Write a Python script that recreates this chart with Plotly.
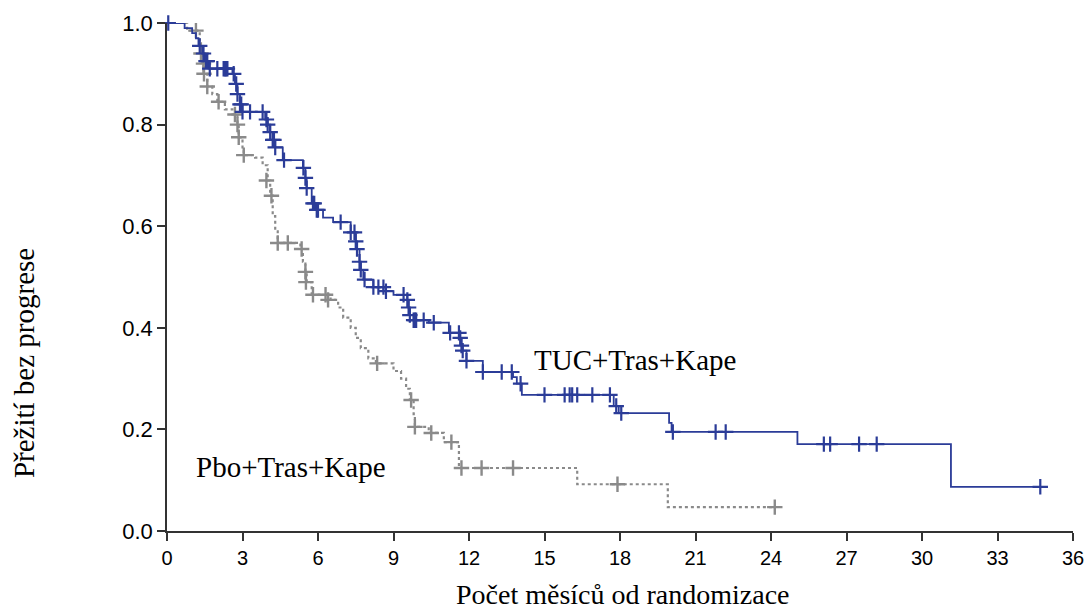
import plotly.graph_objects as go

# TUC+Tras+Kape: step events (time in months, survival after step)
tuc_t = [0, 0.7, 1.0, 1.15, 1.25, 1.4, 1.5, 1.65, 2.6, 2.7, 2.8, 2.9, 3.0, 3.9, 4.0, 4.1, 4.2, 4.3, 4.6,
         5.4, 5.5, 5.55, 5.75, 5.9, 6.2, 6.6, 7.3, 7.5, 7.55, 7.65, 7.7, 7.8, 8.2, 8.6, 9.0, 9.55, 9.6,
         9.65, 9.8, 10.4, 11.2, 11.65, 11.7, 11.75, 11.9, 12.55, 13.75, 13.9, 14.1, 17.75, 17.95, 19.95,
         20.05, 25.05, 31.15, 34.7]
tuc_s = [1.0, 0.99, 0.98, 0.97, 0.955, 0.94, 0.925, 0.91, 0.90, 0.88, 0.86, 0.84, 0.825, 0.81, 0.80, 0.785,
         0.77, 0.755, 0.73, 0.715, 0.695, 0.675, 0.645, 0.632, 0.617, 0.608, 0.588, 0.57, 0.555, 0.53, 0.514,
         0.495, 0.48, 0.472, 0.465, 0.455, 0.44, 0.425, 0.415, 0.41, 0.39, 0.38, 0.365, 0.355, 0.335, 0.313,
         0.303, 0.29, 0.268, 0.246, 0.232, 0.213, 0.195, 0.171, 0.087, 0.087]
# TUC censor marks
tuc_ct = [0.05, 1.3, 1.45, 1.55, 1.6, 1.7, 2.0, 2.25, 2.3, 2.35, 2.4, 2.65, 2.75, 2.8, 2.9, 2.95, 3.0, 3.3,
          3.8, 3.95, 4.0, 4.1, 4.2, 4.25, 4.3, 4.65, 5.42, 5.5, 5.55, 5.8, 5.85, 5.95, 6.0, 6.9, 7.3, 7.45,
          7.5, 7.55, 7.65, 7.7, 7.85, 8.2, 8.4, 8.6, 8.7, 9.4, 9.55, 9.6, 9.65, 9.8, 9.85, 9.9, 10.2, 10.6,
          11.25, 11.6, 11.65, 11.7, 11.75, 11.9, 12.55, 13.3, 13.7, 14.05, 15.0, 15.8, 16.0, 16.1, 16.3,
          16.9, 17.6, 17.85, 18.05, 20.1, 21.8, 22.2, 26.1, 26.35, 27.5, 28.2, 34.7]
tuc_cs = [1.0, 0.955, 0.94, 0.925, 0.925, 0.91, 0.91, 0.91, 0.91, 0.91, 0.91, 0.90, 0.88, 0.86, 0.84, 0.84,
          0.825, 0.825, 0.825, 0.81, 0.80, 0.785, 0.77, 0.77, 0.755, 0.73, 0.715, 0.695, 0.675, 0.645, 0.645,
          0.632, 0.632, 0.608, 0.588, 0.588, 0.57, 0.555, 0.53, 0.514, 0.495, 0.48, 0.48, 0.48, 0.472, 0.465,
          0.455, 0.44, 0.425, 0.415, 0.415, 0.415, 0.415, 0.41, 0.39, 0.39, 0.38, 0.365, 0.355, 0.335, 0.313,
          0.313, 0.313, 0.29, 0.268, 0.268, 0.268, 0.268, 0.268, 0.268, 0.268, 0.246, 0.232, 0.195, 0.195,
          0.195, 0.171, 0.171, 0.171, 0.171, 0.087]

# Pbo+Tras+Kape
pbo_t = [0, 0.8, 1.3, 1.35, 1.4, 1.45, 1.6, 1.8, 2.0, 2.3, 2.6, 2.8, 2.85, 3.0, 3.05, 3.5, 3.8, 4.0, 4.1,
         4.2, 4.3, 4.4, 5.3, 5.4, 5.5, 5.55, 5.75, 6.5, 6.8, 7.0, 7.3, 7.5, 7.7, 8.0, 8.3, 9.0, 9.3, 9.5,
         9.65, 9.8, 9.85, 10.4, 11.0, 11.6, 16.3, 19.9, 24.15]
pbo_s = [1.0, 0.985, 0.96, 0.94, 0.92, 0.90, 0.875, 0.86, 0.845, 0.83, 0.82, 0.80, 0.775, 0.755, 0.74, 0.735,
         0.72, 0.69, 0.66, 0.62, 0.59, 0.567, 0.555, 0.53, 0.51, 0.49, 0.465, 0.455, 0.44, 0.42, 0.40, 0.38,
         0.36, 0.34, 0.33, 0.315, 0.30, 0.28, 0.258, 0.23, 0.205, 0.193, 0.175, 0.124, 0.092, 0.047, 0.047]
pbo_ct = [1.15, 1.35, 1.45, 1.47, 1.6, 2.05, 2.7, 2.8, 2.85, 3.05, 3.95, 4.15, 4.4, 4.8, 5.35, 5.5, 5.52,
          5.8, 6.3, 6.4, 8.35, 9.7, 9.85, 10.5, 11.3, 11.7, 12.5, 13.75, 17.9, 24.15]
pbo_cs = [0.985, 0.94, 0.92, 0.90, 0.875, 0.845, 0.82, 0.80, 0.775, 0.74, 0.69, 0.66, 0.567, 0.567, 0.555,
          0.51, 0.49, 0.465, 0.465, 0.455, 0.33, 0.258, 0.205, 0.193, 0.175, 0.124, 0.124, 0.124, 0.092, 0.047]

x_ticks = [0, 3, 6, 9, 12, 15, 18, 21, 24, 27, 30, 33, 36]
y_ticks = [0.0, 0.2, 0.4, 0.6, 0.8, 1.0]

BLUE = "#2b3c98"
GRAY = "#8a8a8a"

fig = go.Figure()
fig.add_trace(go.Scatter(x=pbo_t, y=pbo_s, mode="lines", line=dict(color=GRAY, width=2.2, dash="dot", shape="hv"),
                         cliponaxis=False, hoverinfo="skip"))
fig.add_trace(go.Scatter(x=pbo_ct, y=pbo_cs, mode="markers",
                         marker=dict(symbol="cross-thin", size=11, line=dict(color=GRAY, width=2.4)),
                         cliponaxis=False))
fig.add_trace(go.Scatter(x=tuc_t, y=tuc_s, mode="lines", line=dict(color=BLUE, width=1.8, shape="hv"),
                         cliponaxis=False))
fig.add_trace(go.Scatter(x=tuc_ct, y=tuc_cs, mode="markers",
                         marker=dict(symbol="cross-thin", size=11, line=dict(color=BLUE, width=2.2)),
                         cliponaxis=False))

serif = "Liberation Serif, Times New Roman, serif"
fig.add_annotation(x=18.6, y=0.337, text="TUC+Tras+Kape", showarrow=False, xref="x", yref="y",
                   xanchor="center", yanchor="middle",
                   font=dict(family=serif, size=29, color="black"))
fig.add_annotation(x=4.93, y=0.126, text="Pbo+Tras+Kape", showarrow=False, xref="x", yref="y",
                   xanchor="center", yanchor="middle",
                   font=dict(family=serif, size=29, color="black"))
fig.add_annotation(x=-0.157, y=0.33, xref="paper", yref="paper", text="Přežití bez progrese", textangle=-90,
                   xanchor="center", yanchor="middle",
                   showarrow=False, font=dict(family=serif, size=29, color="black"))
fig.add_annotation(x=0.503, y=-0.125, xref="paper", yref="paper", text="Počet měsíců od randomizace",
                   xanchor="center", yanchor="middle",
                   showarrow=False, font=dict(family=serif, size=28, color="black"))

fig.update_layout(
    width=1089, height=610,
    margin=dict(l=167, r=16, t=23, b=79),
    paper_bgcolor="white", plot_bgcolor="white",
    showlegend=False,
    xaxis=dict(range=[0, 36], tickvals=x_ticks, ticktext=[str(v) for v in x_ticks],
               showgrid=False, zeroline=False, showline=True, linecolor="#333", linewidth=1.5,
               ticks="outside", ticklen=8, tickwidth=1.5, tickcolor="#333", automargin=False,
               tickfont=dict(family="Liberation Sans Narrow, Liberation Sans, Arial", size=20, color="black")),
    yaxis=dict(range=[0, 1.0], tickvals=y_ticks, ticktext=[f"{v:.1f}" for v in y_ticks],
               showgrid=False, zeroline=False, showline=True, linecolor="#333", linewidth=1.5,
               ticks="outside", ticklen=8, tickwidth=1.5, tickcolor="#333", automargin=False,
               tickfont=dict(family="Liberation Sans, Arial", size=22, color="black")),
)

fig.write_html("out.html", config={"displayModeBar": False},
               post_script="document.body.style.margin='0';document.body.style.overflow='hidden';")
